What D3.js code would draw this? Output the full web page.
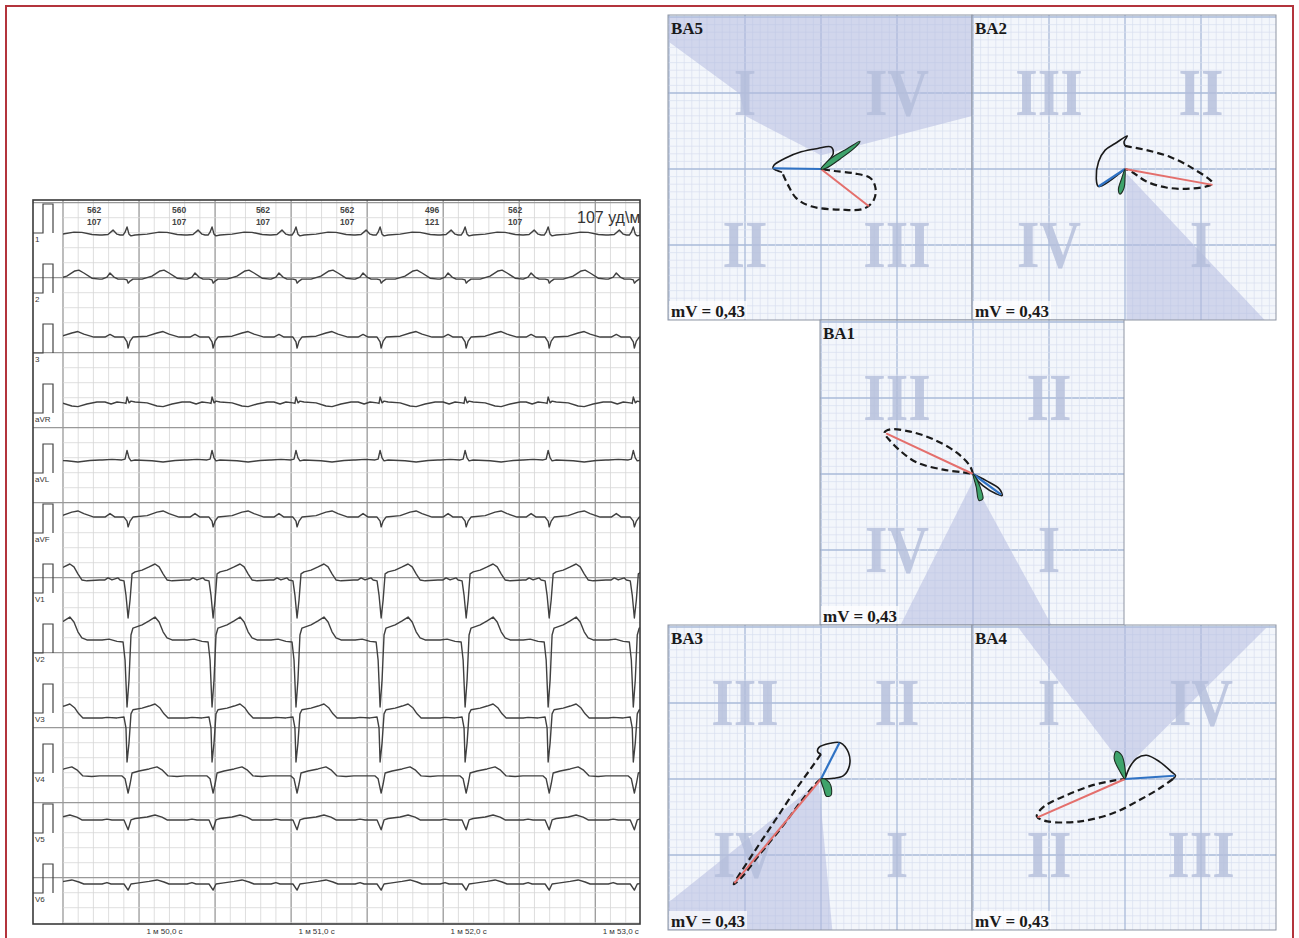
<!DOCTYPE html>
<html><head><meta charset="utf-8">
<script src="https://cdn.jsdelivr.net/npm/d3@7"></script>
<style>body{margin:0;background:#fff}svg{display:block}</style>
</head><body>
<svg id="c" width="1299" height="938"></svg>
<script>
// ---------------- ECG DATA ----------------
const leads = ["1","2","3","aVR","aVL","aVF","V1","V2","V3","V4","V5","V6"];
// isoelectric level of each lead relative to its calibration pulse foot (mV)
const isoLevel = [-0.07,0.48,0.55,0.38,0.45,0.55,0.45,0.45,-0.17,-0.10,0.45,0.31];
// R-peak times (s)
const beatTimes = [109.197,109.757,110.316,110.868,111.421,111.980,112.526,113.086,113.645];
const rrLabels = ["562","560","562","562","496","562"];
const hrLabels = ["107","107","107","107","121","107"];
const timeTicks = [110,111,112,113];
const timeTickLabels = ["1 м 50,0 с","1 м 51,0 с","1 м 52,0 с","1 м 53,0 с"];
const heartRateText = "107 уд\\м";
// beat templates: [ms from R peak, mV]
const tpl1   = [[-164,0],[-125,0.02],[-92,0.17],[-66,0.03],[-46,0],[-26,0],[-13,0.1],[0,0.28],[13,0.03],[26,-0.03],[53,0],[132,0.03],[211,0.1],[263,0.09],[330,0.02],[380,0]];
const tpl2   = [[-164,0],[-132,0.07],[-112,0.21],[-86,0.07],[-59,0],[-20,0],[0,-0.03],[7,-0.14],[20,-0.07],[39,0],[99,0],[164,0.1],[217,0.28],[243,0.31],[276,0.21],[329,0.03],[380,0]];
const tpl3   = [[-164,0],[-145,0],[-112,0.09],[-79,0],[-20,0],[0,-0.17],[7,-0.38],[20,-0.14],[39,0],[132,0.03],[197,0.14],[237,0.19],[276,0.1],[342,0],[380,0]];
const tplAVR = [[-164,0],[-145,0],[-105,-0.07],[-66,0],[-20,-0.03],[-7,-0.05],[0,0.17],[13,-0.03],[26,0.03],[53,0],[132,-0.03],[197,-0.14],[237,-0.16],[296,-0.07],[362,0],[380,0]];
const tplAVL = [[-164,0],[-99,0.02],[-33,0],[-13,0.03],[0,0.33],[13,0.07],[26,-0.03],[53,0],[164,-0.03],[237,-0.07],[316,-0.02],[380,0]];
const tplAVF = [[-164,0],[-145,0],[-112,0.12],[-79,0],[-20,0],[0,-0.14],[7,-0.34],[20,-0.14],[39,0],[132,0.05],[197,0.17],[237,0.21],[276,0.12],[342,0],[380,0]];
const tplV1  = [[-164,0],[-145,0],[-125,0.07],[-99,0],[-59,0.07],[-46,0],[-20,-0.03],[-7,-0.52],[7,-1.31],[20,-0.69],[33,0.21],[53,0.28],[99,0.34],[145,0.45],[184,0.55],[211,0.45],[237,0.21],[263,0],[296,-0.03],[380,0]];
const tplV2  = [[-164,0],[-118,0.03],[-66,-0.05],[-26,-0.07],[-13,-0.69],[0,-2.31],[13,-1.38],[26,0.17],[39,0.41],[99,0.52],[145,0.66],[184,0.79],[211,0.62],[237,0.28],[263,0.07],[296,0],[380,0]];
const tplV3  = [[-164,0],[-132,0.02],[-66,0],[-20,0.03],[-7,-0.34],[0,-1.52],[13,-0.86],[26,0.14],[39,0.28],[99,0.34],[145,0.41],[184,0.48],[217,0.34],[243,0.14],[270,0],[380,0]];
const tplV4  = [[-164,0],[-132,0],[-33,0],[-13,-0.1],[7,-0.59],[20,-0.28],[33,0.1],[79,0.17],[145,0.24],[197,0.31],[230,0.21],[270,0],[329,-0.02],[380,0]];
const tplV5  = [[-164,0],[-132,0.03],[-99,0],[-20,0],[7,-0.34],[26,0],[53,0.05],[132,0.1],[184,0.17],[230,0.1],[263,0],[380,0]];
const tplV6  = [[-164,0],[-132,0.05],[-105,0],[-20,0],[7,-0.21],[26,0],[66,0.03],[145,0.09],[197,0.14],[243,0.07],[276,0],[380,0]];
const templates = [tpl1,tpl2,tpl3,tplAVR,tplAVL,tplAVF,tplV1,tplV2,tplV3,tplV4,tplV5,tplV6];

// ---------------- VCG DATA ----------------
const vcgPanels = ["BA5","BA2","BA1","BA3","BA4"];
const mvLabel = "mV = 0,43";
// quadrant numerals: top-left, top-right, bottom-left, bottom-right
const numerals = {BA5:["I","IV","II","III"],BA2:["III","II","IV","I"],BA1:["III","II","IV","I"],BA3:["III","II","IV","I"],BA4:["I","IV","II","III"]};
const shadeRegions = {
  BA5:[[-2,2],[-2,1.67],[-1.07,0.99],[-1.0,0.70],[0,0.18],[2,0.70],[2,2]],
  BA2:[[0.02,-0.06],[0.02,-2],[1.85,-2]],
  BA1:[[0,-0.09],[-0.96,-2],[1.04,-2]],
  BA3:[[-0.03,-0.04],[-2,-1.62],[-2,-2],[0.15,-2]],
  BA4:[[-1.41,2],[1.87,2],[0,0.14]]
};
const qrsLoops = {
  BA5:[[0,0],[0.087,0.096],[0.161,0.204],[0.13,0.291],[-0.043,0.27],[-0.261,0.226],[-0.478,0.139],[-0.617,0.052],[-0.63,0.009],[-0.587,-0.017],[-0.513,-0.043]],
  BA2:[[0,0],[-0.348,-0.23],[-0.378,-0.122],[-0.348,0.096],[-0.261,0.248],[-0.13,0.335],[0.03,0.435],[-0.013,0.357],[0,0.304]],
  BA1:[[0,0],[0.174,-0.087],[0.348,-0.196],[0.383,-0.283],[0.304,-0.261],[0.13,-0.152],[0.022,-0.043],[0,0]],
  BA3:[[0,0],[0.165,0.009],[0.296,0.043],[0.374,0.174],[0.361,0.348],[0.252,0.478],[0.122,0.47],[-0.03,0.413],[-0.043,0.357],[0,0.326]],
  BA4:[[0,0],[0.065,0.161],[0.152,0.27],[0.283,0.313],[0.457,0.226],[0.609,0.096],[0.665,0.043],[0.63,0]]
};
const tLoops = {
  BA5:[[-0.5,-0.07],[-0.435,-0.209],[-0.326,-0.383],[-0.13,-0.491],[0.261,-0.535],[0.565,-0.522],[0.696,-0.404],[0.717,-0.252],[0.652,-0.122],[0.435,-0.057],[0.174,-0.026],[0,0]],
  BA2:[[0,0.304],[0.065,0.291],[0.283,0.248],[0.587,0.161],[0.891,0.009],[1.152,-0.187],[1.065,-0.23],[0.804,-0.261],[0.543,-0.243],[0.283,-0.165],[0.087,-0.035],[0,0]],
  BA1:[[0,0],[-0.043,0.109],[-0.217,0.283],[-0.522,0.457],[-0.826,0.557],[-1.087,0.587],[-1.165,0.543],[-1.109,0.457],[-0.957,0.304],[-0.739,0.152],[-0.391,0.057],[-0.13,0.022],[0,0]],
  BA3:[[0,0.326],[-0.139,0.13],[-0.357,-0.174],[-0.617,-0.565],[-0.878,-0.957],[-1.117,-1.326],[-1.148,-1.383],[-1.052,-1.304],[-0.813,-1.0],[-0.53,-0.652],[-0.27,-0.304],[-0.074,-0.065],[0,0]],
  BA4:[[0.63,0],[0.457,-0.122],[0.196,-0.274],[-0.152,-0.448],[-0.587,-0.557],[-1.022,-0.557],[-1.161,-0.491],[-1.065,-0.361],[-0.761,-0.209],[-0.413,-0.078],[-0.152,-0.022],[0,0]]
};
const pLoops = {
  BA5:[[0,0],[0.13,0.139],[0.348,0.27],[0.513,0.365],[0.457,0.291],[0.261,0.139],[0.065,0.009]],
  BA2:[[0,0],[-0.043,-0.122],[-0.087,-0.274],[-0.065,-0.33],[-0.013,-0.252],[0,-0.122]],
  BA1:[[0,0],[0.043,-0.174],[0.078,-0.348],[0.13,-0.326],[0.087,-0.152],[0.022,-0.022]],
  BA3:[[0,0],[0.035,-0.13],[0.07,-0.226],[0.13,-0.217],[0.13,-0.087],[0.07,-0.009]],
  BA4:[[0,0],[-0.065,0.096],[-0.143,0.27],[-0.117,0.365],[-0.043,0.313],[0,0.139]]
};
const qrsVectors = {BA5:[-0.63,0.01],BA2:[-0.348,-0.23],BA1:[0.37,-0.27],BA3:[0.243,0.478],BA4:[0.652,0.043]};
const tVectors   = {BA5:[0.63,-0.49],BA2:[1.152,-0.209],BA1:[-1.143,0.535],BA3:[-1.139,-1.37],BA4:[-1.152,-0.504]};

// ---------------- DRAW ----------------
const svg = d3.select("#c");
const defs = svg.append("defs");
svg.append("rect").attr("x",6).attr("y",6).attr("width",1287).attr("height",942)
  .attr("fill","none").attr("stroke","#b3343c").attr("stroke-width",2);

const fTop=200, fBottom=924, fLeft=33, sigLeft=63, fRight=640;
const xT = d3.scaleLinear().domain([109.336,113.13]).range([sigLeft,fRight]);
const rowFoot = d3.scalePoint().domain(leads).range([233,893]);
const mvPx = 29;

defs.append("clipPath").attr("id","ecgclip").append("rect")
  .attr("x",fLeft).attr("y",fTop).attr("width",fRight-fLeft).attr("height",fBottom-fTop);
defs.append("clipPath").attr("id","sigclip").append("rect")
  .attr("x",sigLeft).attr("y",fTop).attr("width",fRight-sigLeft).attr("height",fBottom-fTop);

const ecg = svg.append("g").attr("clip-path","url(#ecgclip)");
ecg.append("rect").attr("x",fLeft).attr("y",fTop).attr("width",fRight-fLeft).attr("height",fBottom-fTop).attr("fill","#fff");
const gridG = ecg.append("g");
const t0 = xT.domain()[0];
d3.range(0,39).forEach(k=>{
  const x = xT(t0+k*0.1);
  if (x>fRight) return;
  const major = k%5===0;
  gridG.append("line").attr("x1",x).attr("x2",x).attr("y1",fTop).attr("y2",fBottom)
    .attr("stroke",major?"#999":"#d6d6d6").attr("stroke-width",major?1.3:0.8);
});
d3.range(0,49).forEach(k=>{
  const y = 202.7 + k*15;
  if (y>fBottom) return;
  const major = k%5===0;
  gridG.append("line").attr("x1",major?fLeft:sigLeft).attr("x2",fRight).attr("y1",y).attr("y2",y)
    .attr("stroke",major?"#999":"#d6d6d6").attr("stroke-width",major?1.3:0.8);
});

const lineGen = d3.line().x(d=>xT(d[0]));
leads.forEach((ld,i)=>{
  const foot = rowFoot(ld);
  const y = d3.scaleLinear().domain([0,1]).range([foot,foot-mvPx]);
  ecg.append("path")
    .attr("d",`M${fLeft},${y(0)}H43V${y(1)}H53V${y(0)}`)
    .attr("fill","none").attr("stroke","#444").attr("stroke-width",1.2);
  ecg.append("text").attr("x",35).attr("y",foot+9).text(ld)
    .attr("font-family","Liberation Sans, Arial, sans-serif").attr("font-size",8).attr("fill","#333");
  const pts = [];
  beatTimes.forEach(bt=>templates[i].forEach(([ms,mv])=>pts.push([bt+ms/1000, mv+isoLevel[i]])));
  ecg.append("path").attr("clip-path","url(#sigclip)")
    .attr("d", lineGen.y(d=>y(d[1]))(pts))
    .attr("fill","none").attr("stroke","#404040").attr("stroke-width",1.4).attr("stroke-linejoin","round");
});

rrLabels.forEach((r,i)=>{
  const x = xT(beatTimes[i+1]) - 33;
  ecg.append("text").attr("x",x).attr("y",213).attr("text-anchor","middle").text(r)
    .attr("font-family","Liberation Sans, Arial, sans-serif").attr("font-size",8.5).attr("font-weight","bold").attr("fill","#444");
  ecg.append("text").attr("x",x).attr("y",225).attr("text-anchor","middle").text(hrLabels[i])
    .attr("font-family","Liberation Sans, Arial, sans-serif").attr("font-size",8.5).attr("font-weight","bold").attr("fill","#444");
});
ecg.append("text").attr("x",577).attr("y",223).text(heartRateText)
  .attr("font-family","Liberation Sans, Arial, sans-serif").attr("font-size",16).attr("fill","#333");

svg.append("rect").attr("x",fLeft).attr("y",fTop).attr("width",fRight-fLeft).attr("height",fBottom-fTop)
  .attr("fill","none").attr("stroke","#3a3a3a").attr("stroke-width",1.6);

const axis = d3.axisBottom(xT).tickValues(timeTicks).tickSize(0)
  .tickFormat((d,i)=>timeTickLabels[i]);
const axG = svg.append("g").attr("transform",`translate(0,${fBottom+1})`).call(axis);
axG.select(".domain").remove();
axG.selectAll("text").attr("font-family","Liberation Sans, Arial, sans-serif").attr("font-size",8).attr("fill","#333").attr("dy","0.8em");

// ---------------- VCG PANELS ----------------
const panelPos = {BA5:[668,15],BA2:[972,15],BA1:[820,320],BA3:[668,625],BA4:[972,625]};
const PW=304, PH=305;
const serif = "Liberation Serif, Times New Roman, serif";
vcgPanels.forEach(name=>{
  const [px,py] = panelPos[name];
  const g = svg.append("g").attr("transform",`translate(${px},${py})`);
  defs.append("clipPath").attr("id","cp"+name).append("rect").attr("width",PW).attr("height",PH);
  const inner = g.append("g").attr("clip-path",`url(#cp${name})`);
  const u = d3.scaleLinear().domain([-2,2]).range([1,305]);
  const v = d3.scaleLinear().domain([-2,2]).range([306,2]);
  inner.append("rect").attr("width",PW).attr("height",PH).attr("fill","#f3f6fb");
  d3.range(0,41).forEach(k=>{
    const val = -2 + k*0.1;
    const major = k%10===0;
    const col = major?"#a9bad9":"#d8e0ef", sw = major?1.3:0.7;
    inner.append("line").attr("x1",u(val)).attr("x2",u(val)).attr("y1",0).attr("y2",PH).attr("stroke",col).attr("stroke-width",sw);
    inner.append("line").attr("y1",v(val)).attr("y2",v(val)).attr("x1",0).attr("x2",PW).attr("stroke",col).attr("stroke-width",sw);
  });
  inner.append("path").attr("d", d3.line().x(d=>u(d[0])).y(d=>v(d[1]))(shadeRegions[name])+"Z")
    .attr("fill","#b4bce0").attr("opacity",0.55);
  const qpos = [[-1,1],[1,1],[-1,-1],[1,-1]];
  numerals[name].forEach((n,i)=>{
    inner.append("text").text(n)
      .attr("transform",`translate(${u(qpos[i][0])},${v(qpos[i][1])+22})scale(0.85,1)`)
      .attr("text-anchor","middle").attr("font-family",serif).attr("font-weight","bold")
      .attr("font-size",68).attr("fill","#b4bedb").attr("opacity",0.8);
  });
  const lg = d3.line().x(d=>u(d[0])).y(d=>v(d[1])).curve(d3.curveCatmullRom.alpha(0.5));
  const lgc = d3.line().x(d=>u(d[0])).y(d=>v(d[1])).curve(d3.curveCatmullRomClosed.alpha(0.5));
  inner.append("path").attr("d",lg(tLoops[name])).attr("fill","none").attr("stroke","#1a1a1a")
    .attr("stroke-width",2.2).attr("stroke-dasharray","7,4");
  inner.append("line").attr("x1",u(0)).attr("y1",v(0)).attr("x2",u(tVectors[name][0])).attr("y2",v(tVectors[name][1]))
    .attr("stroke","#e46f6c").attr("stroke-width",2);
  inner.append("path").attr("d",lg(qrsLoops[name])).attr("fill","none").attr("stroke","#1a1a1a").attr("stroke-width",1.6);
  inner.append("line").attr("x1",u(0)).attr("y1",v(0)).attr("x2",u(qrsVectors[name][0])).attr("y2",v(qrsVectors[name][1]))
    .attr("stroke","#2f72c4").attr("stroke-width",2.2);
  inner.append("path").attr("d",lgc(pLoops[name])).attr("fill","#3ea36b").attr("stroke","#1d2d22").attr("stroke-width",1.1);
  g.append("text").attr("x",3).attr("y",19).text(name).attr("font-family",serif).attr("font-weight","bold").attr("font-size",17).attr("fill","#1a1a1a");
  g.append("rect").attr("x",1).attr("y",PH-19).attr("width",78).attr("height",18).attr("fill","#fff").attr("opacity",0.7);
  g.append("text").attr("x",3).attr("y",PH-3).text(mvLabel).attr("font-family",serif).attr("font-weight","bold").attr("font-size",17).attr("fill","#1a1a1a");
  g.append("rect").attr("width",PW).attr("height",PH).attr("fill","none").attr("stroke","#8e95a3").attr("stroke-width",1);
});
</script>
</body></html>
